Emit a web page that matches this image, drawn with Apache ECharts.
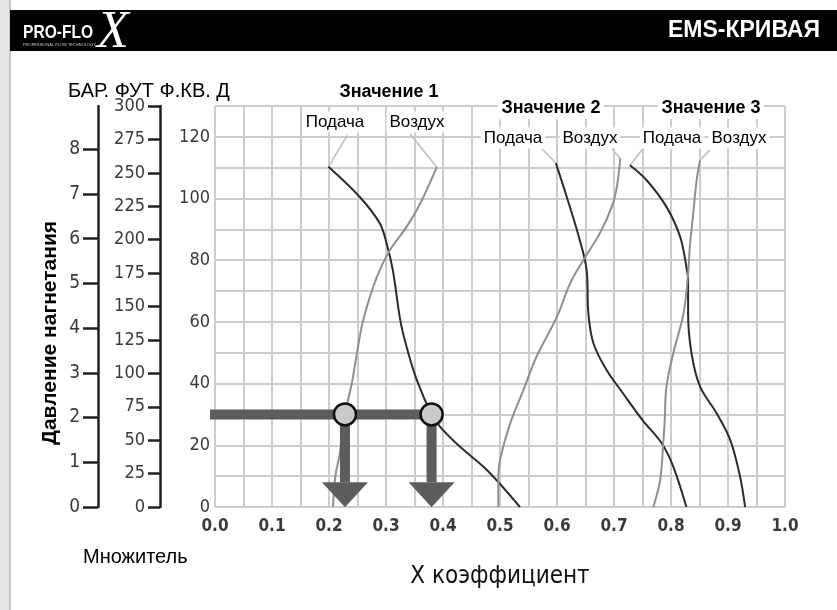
<!DOCTYPE html>
<html>
<head>
<meta charset="utf-8">
<title>EMS-КРИВАЯ</title>
<script src="https://cdn.jsdelivr.net/npm/echarts@6/dist/echarts.min.js"></script>
<style>
  html, body { margin: 0; padding: 0; background: #fff; }
  #chart { width: 837px; height: 610px; }
</style>
</head>
<body>
<div id="chart"></div>
<script>
// кривые: [X коэффициент, давление (ф.кв.д)], сверху вниз
const set1Feed = [[0.199, 110.3], [0.254, 100.5], [0.289, 92], [0.301, 85.5], [0.312, 76.8], [0.325, 60.6], [0.336, 52], [0.354, 41.2], [0.38, 30], [0.395, 26], [0.43, 19.5], [0.477, 12], [0.535, 0]];
const set1Air = [[0.389, 110.2], [0.36, 98.4], [0.336, 90.8], [0.307, 83.3], [0.284, 74.6], [0.26, 60.6], [0.249, 49.8], [0.24, 40.1], [0.228, 30], [0.219, 17.4], [0.211, 9.8], [0.207, 0]];
const set2Feed = [[0.598, 111.5], [0.617, 100.6], [0.64, 86.5], [0.652, 76.8], [0.655, 62.8], [0.664, 53], [0.687, 44.4], [0.716, 36.8], [0.75, 28.2], [0.784, 20.6], [0.804, 13.1], [0.827, 0]];
const set2Air = [[0.711, 113], [0.705, 103.8], [0.696, 97.3], [0.675, 88.7], [0.646, 80], [0.623, 72.5], [0.6, 61.7], [0.564, 48.7], [0.541, 37.9], [0.518, 27.1], [0.5, 15.2], [0.497, 8.7], [0.497, 0]];
const set3Feed = [[0.728, 110.8], [0.757, 106], [0.792, 97.3], [0.816, 87.6], [0.827, 77.9], [0.83, 73.6], [0.83, 62.8], [0.836, 49.8], [0.851, 39], [0.88, 30.4], [0.904, 21.7], [0.921, 10], [0.93, 0]];
const set3Air = [[0.851, 112.4], [0.845, 106], [0.839, 95.2], [0.833, 84.3], [0.83, 75.7], [0.822, 62.8], [0.804, 49.8], [0.792, 39], [0.789, 28.2], [0.786, 19.5], [0.781, 8.7], [0.769, 0]];

// выноски от начала кривых к подписям
const leaders = [
  [[0.199, 110.3], [0.232, 120.5]],
  [[0.389, 110.2], [0.342, 121]],
  [[0.598, 111.5], [0.573, 116.2]],
  [[0.711, 113], [0.696, 116.2]],
  [[0.728, 110.8], [0.751, 116.2]],
  [[0.851, 112.4], [0.868, 115.7]]
];

// пример считывания: 2 бар (~30 ф.кв.д) -> X = 0.228 и 0.38
const readPsi = 30;
const readX = [0.228, 0.38];
const readStartX = -0.36;
const arrowShaftEnd = 8;
const arrowHeadY = 4;

const psiMax = 130;
const ftMax = 300;
const psiPerBar = 14.5;
const barTicks = [0, 1, 2, 3, 4, 5, 6, 7, 8];

const narrow = "'Liberation Sans Narrow', 'DejaVu Sans Condensed', sans-serif";
const sans = "'Liberation Sans', Arial, sans-serif";
const darkLine = '#2b2b2b';
const grayLine = '#8f8f8f';
const gridColor = '#cdcdcd';
const pointerColor = '#5c5c5c';

const chart = echarts.init(document.getElementById('chart'));

const curve = (name, data, color) => ({
  name, type: 'line', data, smooth: 0.35, showSymbol: false, z: 2,
  lineStyle: { color, width: 2 }
});

const label = (text, x, y, bold, size) => ({
  type: 'text', x, y, z: 100,
  style: {
    text, fill: '#000', align: 'center', verticalAlign: 'middle',
    font: (bold ? 'bold ' : '') + size + 'px ' + sans,
    backgroundColor: '#fff', padding: [2, 3]
  }
});

const option = {
  animation: false,
  backgroundColor: '#fff',
  grid: { left: 215, right: 52, top: 106, bottom: 103 },
  xAxis: {
    type: 'value', min: 0, max: 1, interval: 0.05,
    axisLine: { show: false },
    axisTick: { show: false },
    splitLine: { lineStyle: { color: gridColor, width: 2 } },
    axisLabel: {
      formatter: v => (Math.round(v * 20) % 2 === 0 ? v.toFixed(1) : ''),
      fontFamily: narrow, fontWeight: 'bold', fontSize: 17, color: '#3a3a3a', margin: 11
    },
    name: 'X коэффициент', nameLocation: 'middle', nameGap: 70,
    nameTextStyle: { fontFamily: narrow, fontSize: 24, color: '#111', verticalAlign: 'middle' }
  },
  yAxis: [
    {
      type: 'value', min: 0, max: psiMax, interval: 10, position: 'left',
      axisLine: { show: false },
      axisTick: { show: false },
      splitLine: { lineStyle: { color: gridColor, width: 2 } },
      axisLabel: {
        formatter: v => (v % 20 === 0 ? v : ''),
        fontFamily: narrow, fontSize: 18, color: '#3a3a3a', margin: 5, padding: [8, 0, 0, 0]
      }
    },
    {
      type: 'value', min: 0, max: ftMax, interval: 25, position: 'left', offset: 55,
      axisLine: { show: true, lineStyle: { color: '#222', width: 2.5 } },
      axisTick: { show: true, length: 12, lineStyle: { color: '#222', width: 2.5 } },
      splitLine: { show: false },
      axisLabel: { fontFamily: narrow, fontSize: 18, color: '#3a3a3a', margin: 15 }
    },
    {
      type: 'value', min: 0, max: psiMax / psiPerBar, position: 'left', offset: 117,
      axisLine: { show: true, lineStyle: { color: '#222', width: 2.5 } },
      axisTick: { show: true, length: 15, customValues: barTicks, lineStyle: { color: '#222', width: 2.5 } },
      splitLine: { show: false },
      axisLabel: { customValues: barTicks, fontFamily: narrow, fontSize: 19, color: '#3a3a3a', margin: 18 }
    }
  ],
  series: [
    ...leaders.map(d => ({
      type: 'line', data: d, showSymbol: false, z: 1, silent: true,
      lineStyle: { color: '#bdbdbd', width: 1.5 }
    })),
    curve('Значение 1 Подача', set1Feed, darkLine),
    curve('Значение 1 Воздух', set1Air, grayLine),
    curve('Значение 2 Подача', set2Feed, darkLine),
    curve('Значение 2 Воздух', set2Air, grayLine),
    curve('Значение 3 Подача', set3Feed, darkLine),
    curve('Значение 3 Воздух', set3Air, grayLine),
    {
      type: 'line', clip: false, showSymbol: false, z: 3,
      data: [[readStartX, readPsi], [readX[1], readPsi]],
      lineStyle: { color: pointerColor, width: 10 }
    },
    ...readX.map(x => ({
      type: 'line', showSymbol: false, z: 3,
      data: [[x, readPsi], [x, arrowShaftEnd]],
      lineStyle: { color: pointerColor, width: 10 }
    })),
    {
      type: 'scatter', z: 3, symbol: 'triangle', symbolSize: [46, 25], symbolRotate: 180,
      data: readX.map(x => [x, arrowHeadY]),
      itemStyle: { color: pointerColor, opacity: 1 }
    },
    {
      type: 'scatter', z: 4, symbolSize: 22,
      data: readX.map(x => [x, readPsi]),
      itemStyle: { color: '#c9c9c9', borderColor: '#111', borderWidth: 2.5, opacity: 1 }
    }
  ],
  graphic: [
    { type: 'rect', shape: { x: 0, y: 0, width: 9, height: 610 }, style: { fill: '#e6e6e6' } },
    { type: 'line', shape: { x1: 10, y1: 0, x2: 10, y2: 610 }, style: { stroke: '#b5b5b5', lineWidth: 1.5 } },
    { type: 'rect', shape: { x: 10, y: 10, width: 827, height: 41 }, style: { fill: '#000' } },
    { type: 'text', x: 23, y: 33, scaleX: 0.82, style: { text: 'PRO-FLO', fill: '#fff', font: 'bold 19px ' + sans, verticalAlign: 'middle' } },
    { type: 'text', x: 23, y: 45, style: { text: 'PROFESSIONAL FLOW TECHNOLOGY', fill: '#ccc', font: '4px ' + sans, verticalAlign: 'middle' } },
    { type: 'text', x: 113, y: 33, style: { text: 'X', fill: '#fff', font: 'italic 52px "Liberation Serif", serif', align: 'center', verticalAlign: 'middle' } },
    { type: 'text', x: 820, y: 31, style: { text: 'EMS-КРИВАЯ', fill: '#fff', font: 'bold 23px ' + sans, align: 'right', verticalAlign: 'middle' } },
    { type: 'text', x: 68, y: 91, z: 100, style: { text: 'БАР. ФУТ Ф.КВ. Д', fill: '#000', font: '20px ' + sans, verticalAlign: 'middle' } },
    {
      type: 'text', x: 50, y: 333, rotation: Math.PI / 2, z: 100,
      style: {
        text: 'Давление нагнетания', fill: '#000', font: 'bold 21px ' + sans,
        align: 'center', verticalAlign: 'middle', backgroundColor: '#fff', padding: [6, 2]
      }
    },
    { type: 'text', x: 83, y: 557, style: { text: 'Множитель', fill: '#000', font: '20px ' + sans, verticalAlign: 'middle' } },
    label('Значение 1', 389, 92, true, 18),
    label('Подача', 335, 122, false, 17),
    label('Воздух', 417, 122, false, 17),
    label('Значение 2', 551, 108, true, 18),
    label('Значение 3', 711, 108, true, 18),
    label('Подача', 513, 138, false, 17),
    label('Воздух', 590, 138, false, 17),
    label('Подача', 672, 138, false, 17),
    label('Воздух', 739, 138, false, 17)
  ]
};

chart.setOption(option);
</script>
</body>
</html>
